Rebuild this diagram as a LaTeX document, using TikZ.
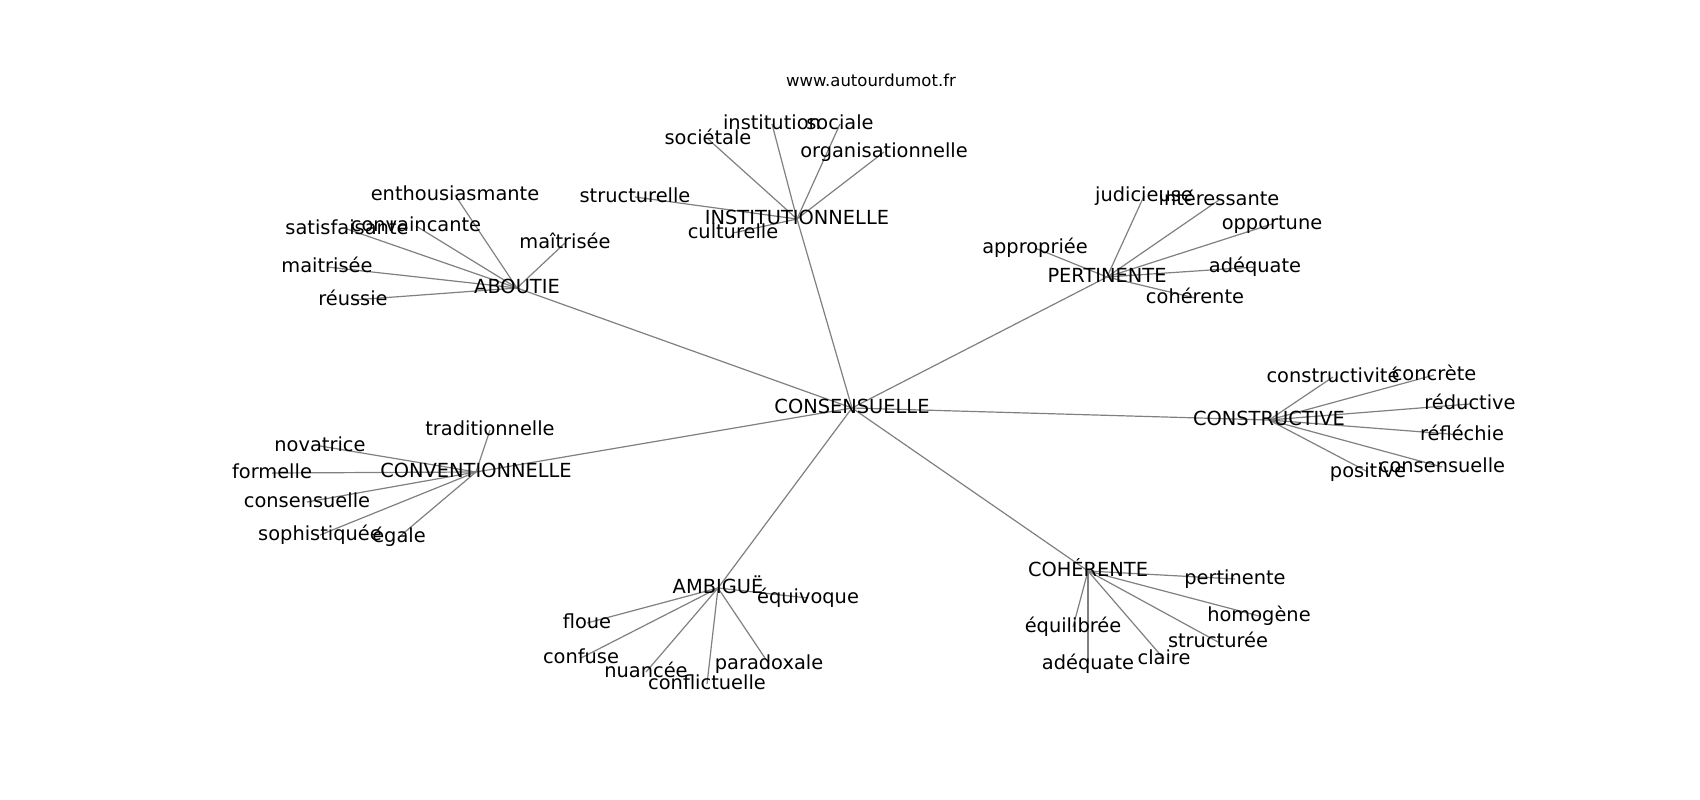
\documentclass[tikz,border=0pt]{standalone}
\usepackage{fontspec}
\setmainfont{DejaVu Sans}
\usetikzlibrary{backgrounds}
\tikzset{
  lbl/.style={font=\fontsize{19.4}{23}\selectfont, inner sep=0pt, text height=14.7pt, text depth=4.1pt, anchor=center, text=black},
  wlbl/.style={font=\fontsize{16.5}{20}\selectfont, inner sep=0pt, text height=12.5pt, text depth=3.5pt, anchor=center, text=black},
  edge/.style={draw=gray, line width=1.2pt}
}
\begin{document}
\begin{tikzpicture}[x=1pt,y=-1pt]
\useasboundingbox (0,0) rectangle (1700,800);
\node[wlbl] (www) at (871,82.5) {www.autourdumot.fr};
% hubs
\node[lbl] (cons) at (852,408) {CONSENSUELLE};
\node[lbl] (inst) at (797,219) {INSTITUTIONNELLE};
\node[lbl] (abou) at (517,288) {ABOUTIE};
\node[lbl] (pert) at (1107,277) {PERTINENTE};
\node[lbl] (cstr) at (1269,420) {CONSTRUCTIVE};
\node[lbl] (conv) at (476,472) {CONVENTIONNELLE};
\node[lbl] (ambi) at (718,588) {AMBIGUË};
\node[lbl] (cohe) at (1088,571) {COHÉRENTE};
% INSTITUTIONNELLE leaves
\node[lbl] (i1) at (708,139) {sociétale};
\node[lbl] (i2) at (772,124) {institution};
\node[lbl] (i3) at (840,124) {sociale};
\node[lbl] (i4) at (884,152) {organisationnelle};
\node[lbl] (i5) at (635,197) {structurelle};
\node[lbl] (i6) at (733,233) {culturelle};
% ABOUTIE leaves
\node[lbl] (a1) at (455,195) {enthousiasmante};
\node[lbl] (a2) at (347,229) {satisfaisante};
\node[lbl] (a3) at (416,226) {convaincante};
\node[lbl] (a4) at (565,243) {maîtrisée};
\node[lbl] (a5) at (327,267) {maitrisée};
\node[lbl] (a6) at (353,300) {réussie};
% PERTINENTE leaves
\node[lbl] (p1) at (1144,196) {judicieuse};
\node[lbl] (p2) at (1219,200) {intéressante};
\node[lbl] (p3) at (1272,224) {opportune};
\node[lbl] (p4) at (1035,248) {appropriée};
\node[lbl] (p5) at (1255,267) {adéquate};
\node[lbl] (p6) at (1195,298) {cohérente};
% CONSTRUCTIVE leaves
\node[lbl] (c1) at (1333,377) {constructivité};
\node[lbl] (c2) at (1434,375) {concrète};
\node[lbl] (c3) at (1470,404) {réductive};
\node[lbl] (c4) at (1462,435) {réfléchie};
\node[lbl] (c5) at (1442,467) {consensuelle};
\node[lbl] (c6) at (1368,472) {positive};
% CONVENTIONNELLE leaves
\node[lbl] (v1) at (490,430) {traditionnelle};
\node[lbl] (v2) at (320,446) {novatrice};
\node[lbl] (v3) at (272,473) {formelle};
\node[lbl] (v4) at (307,502) {consensuelle};
\node[lbl] (v5) at (320,535) {sophistiquée};
\node[lbl] (v6) at (399,537) {égale};
% AMBIGUE leaves
\node[lbl] (b1) at (808,598) {équivoque};
\node[lbl] (b2) at (587,623) {floue};
\node[lbl] (b3) at (581,658) {confuse};
\node[lbl] (b4) at (646,672) {nuancée};
\node[lbl] (b5) at (707,684) {conflictuelle};
\node[lbl] (b6) at (769,664) {paradoxale};
% COHERENTE leaves
\node[lbl] (h1) at (1235,579) {pertinente};
\node[lbl] (h2) at (1259,616) {homogène};
\node[lbl] (h3) at (1073,627) {équilibrée};
\node[lbl] (h4) at (1218,642) {structurée};
\node[lbl] (h5) at (1164,659) {claire};
\node[lbl] (h6) at (1088,664) {adéquate};
\begin{pgfonlayer}{background}
\fill[white] (0,0) rectangle (1700,800);
\foreach \h in {inst,abou,pert,cstr,conv,ambi,cohe}
  \draw[edge] (cons.center) -- (\h.center);
\foreach \l in {i1,i2,i3,i4,i5,i6}
  \draw[edge] (inst.center) -- (\l.center);
\foreach \l in {a1,a2,a3,a4,a5,a6}
  \draw[edge] (abou.center) -- (\l.center);
\foreach \l in {p1,p2,p3,p4,p5,p6}
  \draw[edge] (pert.center) -- (\l.center);
\foreach \l in {c1,c2,c3,c4,c5,c6}
  \draw[edge] (cstr.center) -- (\l.center);
\foreach \l in {v1,v2,v3,v4,v5,v6}
  \draw[edge] (conv.center) -- (\l.center);
\foreach \l in {b1,b2,b3,b4,b5,b6}
  \draw[edge] (ambi.center) -- (\l.center);
\foreach \l in {h1,h2,h3,h4,h5,h6}
  \draw[edge] (cohe.center) -- (\l.center);
\end{pgfonlayer}
\end{tikzpicture}
\end{document}
